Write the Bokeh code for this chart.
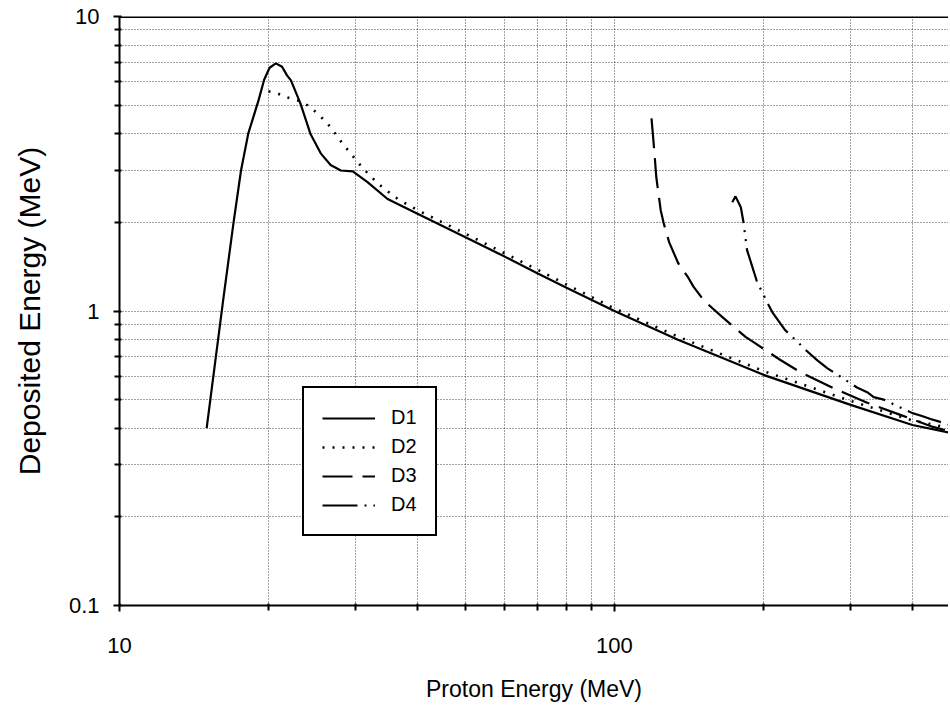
from bokeh.plotting import figure
from bokeh.models import FixedTicker, Span, Legend, LegendItem, Range1d
from bokeh.embed import file_html
from bokeh.resources import INLINE

# ---- data ----
d1_x = [15, 16.2, 17.0, 17.6, 18.2, 19.1, 19.6, 20.1, 20.7, 21.3, 21.8, 22.2, 23.2, 24.3, 25.5,
        26.7, 28.0, 29.6, 31.7, 34.8, 40, 50, 60, 70, 80, 100, 134, 200, 300, 400, 477]
d1_y = [0.40, 1.09, 2.0, 3.0, 4.0, 5.2, 6.1, 6.7, 6.93, 6.75, 6.31, 6.07, 5.07, 4.0, 3.43,
        3.13, 3.0, 2.98, 2.74, 2.40, 2.14, 1.78, 1.53, 1.34, 1.20, 1.0, 0.80, 0.607, 0.48, 0.41, 0.386]

d2_x = [20.0, 20.8, 21.8, 22.9, 24.0, 25.1, 26.3, 27.3, 28.2, 29.3, 30.4, 31.7, 33.2, 34.8,
        36.5, 40, 50, 60, 70, 80, 100, 134, 200, 300, 400, 477]
d2_y = [5.57, 5.49, 5.31, 5.19, 4.99, 4.69, 4.34, 4.0, 3.71, 3.43, 3.18, 2.94, 2.72, 2.55,
        2.40, 2.20, 1.83, 1.57, 1.38, 1.23, 1.02, 0.82, 0.625, 0.495, 0.425, 0.40]

d3_x = [118.8, 120, 121.5, 124, 125.6, 129, 134.6, 140.9, 144.4, 152, 165, 184, 192, 216,
        237, 276, 324, 378, 440, 477]
d3_y = [4.51, 3.71, 2.84, 2.20, 2.0, 1.71, 1.45, 1.30, 1.21, 1.08, 0.955, 0.817, 0.779, 0.683,
        0.621, 0.548, 0.488, 0.444, 0.404, 0.39]

d4_x = [173, 175.6, 180, 182, 185.3, 194.1, 198.7, 203.5, 208.5, 221.4, 233.5, 245, 257, 269,
        309, 324, 334, 350, 400, 418, 435, 477]
d4_y = [2.34, 2.45, 2.25, 2.03, 1.61, 1.257, 1.16, 1.07, 0.99, 0.86, 0.79, 0.73, 0.68, 0.64,
        0.55, 0.53, 0.51, 0.50, 0.45, 0.44, 0.43, 0.41]

x_major = [10, 100]
x_minor = [20, 30, 40, 50, 60, 70, 80, 90, 200, 300, 400]
y_major = [0.1, 1, 10]
y_minor = [0.2, 0.3, 0.4, 0.5, 0.6, 0.7, 0.8, 0.9, 2, 3, 4, 5, 6, 7, 8, 9]

FONT = "Liberation Sans"

p = figure(width=948, height=704, x_axis_type="log", y_axis_type="log",
           x_range=Range1d(10, 473), y_range=Range1d(0.1, 10),
           output_backend="svg", toolbar_location=None,
           min_border_left=119, min_border_right=0, min_border_top=16, min_border_bottom=98)

p.outline_line_color = None
p.background_fill_color = "white"
p.border_fill_color = "white"

# axes
p.xaxis.ticker = FixedTicker(ticks=x_major, minor_ticks=x_minor)
p.yaxis.ticker = FixedTicker(ticks=y_major, minor_ticks=y_minor)
p.xaxis.major_label_overrides = {10: "10", 100: "100"}
p.yaxis.major_label_overrides = {0.1: "0.1", 1: "1", 10: "10"}
for ax in (p.xaxis, p.yaxis):
    ax.axis_line_color = "black"
    ax.axis_line_width = 2
    ax.major_tick_line_color = "black"
    ax.minor_tick_line_color = "black"
    ax.major_tick_line_width = 2
    ax.minor_tick_line_width = 2
    ax.major_tick_out = 6
    ax.major_tick_in = 2
    ax.minor_tick_out = 5
    ax.minor_tick_in = 2
    ax.major_label_text_font = FONT
    ax.major_label_text_font_size = "22px"
    ax.major_label_text_color = "black"
    ax.axis_label_text_font = FONT
    ax.axis_label_text_font_style = "normal"
    ax.axis_label_text_color = "black"

p.xaxis.axis_label = "Proton Energy (MeV)"
p.yaxis.axis_label = "Deposited Energy (MeV)"
p.xaxis.axis_label_text_font_size = "23px"
p.yaxis.axis_label_text_font_size = "30px"
p.xaxis.major_label_standoff = 26
p.yaxis.major_label_standoff = 14
p.xaxis.axis_label_standoff = 20
p.yaxis.axis_label_standoff = 20

# grids: dotted at every minor and major position
p.xgrid.ticker = FixedTicker(ticks=x_major + x_minor)
p.ygrid.ticker = FixedTicker(ticks=y_major + y_minor)
for g in (p.xgrid, p.ygrid):
    g.grid_line_color = "black"
    g.grid_line_dash = "1 2"
    g.grid_line_width = 1
    g.grid_line_alpha = 0.75

# top border line
p.add_layout(Span(location=10, dimension="width", line_color="black", line_width=3))

# curves
r1 = p.line(d1_x, d1_y, line_color="black", line_width=2.2)
r2 = p.line(d2_x, d2_y, line_color="black", line_width=2.6, line_dash="2 8")
r3 = p.line(d3_x, d3_y, line_color="black", line_width=2.2, line_dash="30 10")
r4 = p.line(d4_x, d4_y, line_color="black", line_width=2.2, line_dash="35 7 2 7 2 7")

legend = Legend(items=[LegendItem(label="D1", renderers=[r1]),
                       LegendItem(label="D2", renderers=[r2]),
                       LegendItem(label="D3", renderers=[r3]),
                       LegendItem(label="D4", renderers=[r4])],
                location=(183, 69))
legend.border_line_color = "black"
legend.border_line_alpha = 1
legend.border_line_width = 2
legend.background_fill_color = "white"
legend.background_fill_alpha = 1
legend.label_text_font = FONT
legend.label_text_font_size = "20px"
legend.label_text_color = "black"
legend.glyph_width = 53
legend.glyph_height = 20
legend.label_height = 20
legend.spacing = 6
legend.padding = 18
legend.label_standoff = 16
legend.margin = 0
p.add_layout(legend)

open("out.html", "w").write(file_html(p, INLINE))
